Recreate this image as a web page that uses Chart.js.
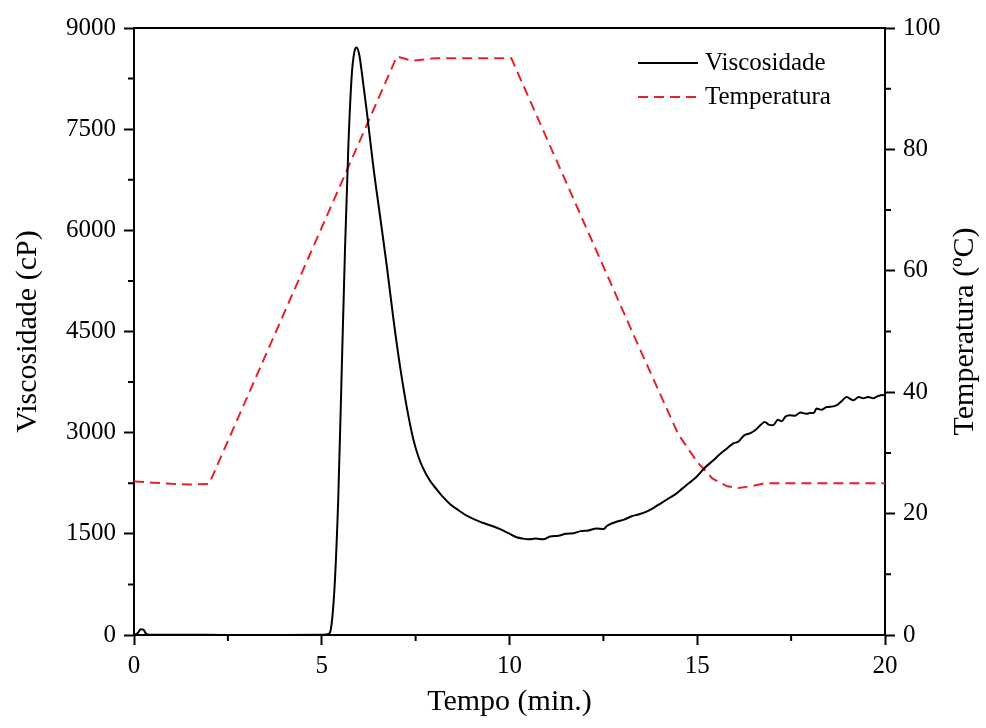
<!DOCTYPE html>
<html>
<head>
<meta charset="utf-8">
<script src="https://cdn.jsdelivr.net/npm/chart.js@4.4.0/dist/chart.umd.min.js"></script>
<style>
  html, body { margin: 0; padding: 0; background: #fff; }
  #wrap { width: 986px; height: 728px; }
</style>
</head>
<body>
<div id="wrap"><canvas id="chart" width="986" height="728"></canvas></div>
<script>
// viscosity curve (min, cP)
const viscTime = [0, 0.1, 0.18, 0.25, 0.32, 0.4, 1, 2, 3, 4, 5, 5.15, 5.22, 5.28, 5.35, 5.44, 5.53, 5.62, 5.71, 5.8, 5.87, 5.93, 6.0, 6.06, 6.2, 6.37, 6.55, 6.73, 6.91, 7.08, 7.26, 7.44, 7.57, 7.7, 7.88, 8.06, 8.24, 8.42, 8.64, 8.86, 9.08, 9.3, 9.52, 9.75, 9.97, 10.19, 10.35, 10.5, 10.7, 10.9, 11.08, 11.3, 11.5, 11.7, 11.9, 12.1, 12.32, 12.5, 12.6, 12.85, 13.05, 13.25, 13.45, 13.65, 13.85, 14.05, 14.25, 14.45, 14.6, 14.8, 14.99, 15.2, 15.43, 15.6, 15.8, 15.96, 16.1, 16.25, 16.4, 16.55, 16.7, 16.8, 16.9, 17.02, 17.15, 17.25, 17.35, 17.47, 17.6, 17.75, 17.9, 18.0, 18.1, 18.18, 18.3, 18.45, 18.62, 18.75, 18.85, 18.98, 19.05, 19.16, 19.3, 19.42, 19.55, 19.69, 19.8, 19.95, 20];
const viscValues = [0, 30, 85, 80, 20, 5, 3, 2, 1, 1, 2, 10, 40, 250, 800, 2030, 3880, 5730, 7270, 8310, 8650, 8710, 8600, 8370, 7760, 6960, 6220, 5480, 4680, 4000, 3390, 2900, 2650, 2470, 2290, 2160, 2040, 1940, 1850, 1770, 1710, 1660, 1620, 1570, 1510, 1450, 1430, 1420, 1430, 1420, 1460, 1470, 1500, 1510, 1540, 1550, 1580, 1570, 1620, 1680, 1710, 1760, 1790, 1830, 1890, 1960, 2030, 2100, 2170, 2260, 2350, 2480, 2590, 2680, 2770, 2840, 2870, 2960, 2990, 3040, 3120, 3160, 3120, 3110, 3190, 3170, 3240, 3260, 3250, 3300, 3280, 3290, 3290, 3360, 3340, 3380, 3390, 3420, 3470, 3530, 3510, 3480, 3530, 3510, 3530, 3510, 3540, 3560, 3550];

// temperature profile (min, ºC)
const tempTime = [0, 0.5, 1, 1.5, 2, 7.0, 7.4, 8, 10.05, 13.48, 14.5, 15.0, 15.4, 15.8, 16.1, 16.5, 16.8, 20];
const tempValues = [25.3, 25.1, 24.9, 24.8, 24.9, 95.3, 94.6, 95, 95, 47, 33, 28.5, 25.8, 24.5, 24.2, 24.6, 25, 25];

const xTicks = [0, 5, 10, 15, 20];
const xMinor = [2.5, 7.5, 12.5, 17.5];
const viscTicks = [0, 1500, 3000, 4500, 6000, 7500, 9000];
const viscMinor = [750, 2250, 3750, 5250, 6750, 8250];
const tempTicks = [0, 20, 40, 60, 80, 100];
const tempMinor = [10, 30, 50, 70, 90];

const seriesNames = ["Viscosidade", "Temperatura"];
const FONT = "'Liberation Serif', 'Times New Roman', serif";
const RED = "#e3232b";

const viscPoints = viscTime.map((t, i) => ({ x: t, y: viscValues[i] }));
const tempPoints = tempTime.map((t, i) => ({ x: t, y: tempValues[i] }));

// minor tick marks + top frame + right title + legend
const extrasPlugin = {
  id: "extras",
  afterDraw(chart) {
    const c = chart.ctx;
    const area = chart.chartArea;
    const sx = chart.scales.x, sy = chart.scales.y, sy1 = chart.scales.y1;
    c.save();
    c.strokeStyle = "#000";
    c.lineWidth = 2;
    c.beginPath();
    xMinor.forEach(v => {
      const p = sx.getPixelForValue(v);
      c.moveTo(p, area.bottom); c.lineTo(p, area.bottom + 6);
    });
    viscMinor.forEach(v => {
      const p = sy.getPixelForValue(v);
      c.moveTo(area.left, p); c.lineTo(area.left - 6, p);
    });
    tempMinor.forEach(v => {
      const p = sy1.getPixelForValue(v);
      c.moveTo(area.right, p); c.lineTo(area.right + 6, p);
    });
    c.stroke();

    // top frame line
    c.beginPath();
    c.moveTo(area.left - 1, area.top);
    c.lineTo(area.right + 1, area.top);
    c.stroke();

    // right axis title, reads bottom to top
    c.fillStyle = "#000";
    c.font = "30px " + FONT;
    c.textAlign = "center";
    c.textBaseline = "middle";
    c.translate(965, (area.top + area.bottom) / 2);
    c.rotate(-Math.PI / 2);
    c.fillText("Temperatura (ºC)", 0, 0);
    c.restore();

    // legend
    c.save();
    const lx = area.right - 247;
    const ly = area.top + 35;
    c.lineWidth = 2;
    c.strokeStyle = "#000";
    c.beginPath(); c.moveTo(lx, ly); c.lineTo(lx + 60, ly); c.stroke();
    c.strokeStyle = RED;
    c.setLineDash([10, 6]);
    c.beginPath(); c.moveTo(lx, ly + 34); c.lineTo(lx + 60, ly + 34); c.stroke();
    c.setLineDash([]);
    c.fillStyle = "#000";
    c.font = "25px " + FONT;
    c.textAlign = "left";
    c.textBaseline = "middle";
    c.fillText(seriesNames[0], lx + 67, ly);
    c.fillText(seriesNames[1], lx + 67, ly + 34);
    c.restore();
  }
};

const axisGrid = {
  display: true,
  drawOnChartArea: false,
  drawTicks: true,
  tickLength: 10,
  tickWidth: 2,
  tickColor: "#000",
  color: "#000"
};
const axisBorder = { display: true, color: "#000", width: 2 };
const tickFont = { family: FONT, size: 25 };
const plainLabel = v => String(v);

new Chart(document.getElementById("chart"), {
  type: "line",
  data: {
    datasets: [
      {
        label: seriesNames[0],
        data: viscPoints,
        yAxisID: "y",
        borderColor: "#000",
        borderWidth: 2,
        pointRadius: 0,
        cubicInterpolationMode: "monotone",
        fill: false
      },
      {
        label: seriesNames[1],
        data: tempPoints,
        yAxisID: "y1",
        borderColor: RED,
        borderWidth: 2,
        borderDash: [10, 6],
        pointRadius: 0,
        tension: 0,
        fill: false
      }
    ]
  },
  options: {
    responsive: false,
    animation: false,
    devicePixelRatio: 1,
    layout: { padding: { top: 28, left: 0, right: 0, bottom: 0 } },
    plugins: {
      legend: { display: false },
      tooltip: { enabled: false }
    },
    scales: {
      x: {
        type: "linear",
        min: 0,
        max: 20,
        afterBuildTicks: s => { s.ticks = xTicks.map(v => ({ value: v })); },
        afterFit: s => { s.height = 93; },
        grid: axisGrid,
        border: axisBorder,
        ticks: { color: "#000", font: tickFont, padding: 6, maxRotation: 0, callback: plainLabel },
        title: {
          display: true,
          text: "Tempo (min.)",
          color: "#000",
          font: { family: FONT, size: 30 },
          padding: { top: 0, bottom: 8 }
        }
      },
      y: {
        type: "linear",
        position: "left",
        min: 0,
        max: 9000,
        afterBuildTicks: s => { s.ticks = viscTicks.map(v => ({ value: v })); },
        afterFit: s => { s.width = 134; },
        grid: axisGrid,
        border: axisBorder,
        ticks: { color: "#000", font: tickFont, padding: 8, callback: plainLabel },
        title: {
          display: true,
          text: "Viscosidade (cP)",
          color: "#000",
          font: { family: FONT, size: 30 },
          padding: { top: 10, bottom: 0 }
        }
      },
      y1: {
        type: "linear",
        position: "right",
        min: 0,
        max: 100,
        afterBuildTicks: s => { s.ticks = tempTicks.map(v => ({ value: v })); },
        afterFit: s => { s.width = 101; },
        grid: axisGrid,
        border: axisBorder,
        ticks: { color: "#000", font: tickFont, padding: 8, callback: plainLabel }
      }
    }
  },
  plugins: [extrasPlugin]
});
</script>
</body>
</html>
